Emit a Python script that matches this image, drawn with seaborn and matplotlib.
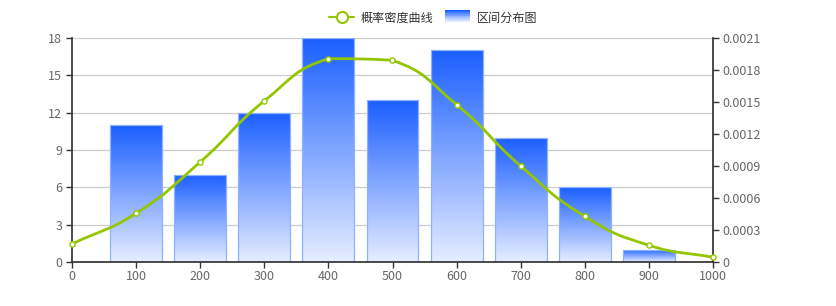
import numpy as np
import pandas as pd
import matplotlib
matplotlib.use("Agg")
import matplotlib.pyplot as plt
import seaborn as sns
from matplotlib.path import Path
from matplotlib.patches import PathPatch, Rectangle
from matplotlib.lines import Line2D
from matplotlib.legend_handler import HandlerBase
from matplotlib.colors import LinearSegmentedColormap

# ---- data ----
bar_x = [100, 200, 300, 400, 500, 600, 700, 800, 900]
bar_counts = [11, 7, 12, 18, 13, 17, 10, 6, 1]
line_x = [0, 100, 200, 300, 400, 500, 600, 700, 800, 900, 1000]
line_density = [0.000169, 0.000457, 0.000938, 0.00151, 0.001906, 0.001891,
                0.001475, 0.0009, 0.000428, 0.000157, 0.000044]
left_ticks = [0, 3, 6, 9, 12, 15, 18]
right_ticks = [0, 0.0003, 0.0006, 0.0009, 0.0012, 0.0015, 0.0018, 0.0021]
right_labels = ["0", "0.0003", "0.0006", "0.0009", "0.0012", "0.0015", "0.0018", "0.0021"]
x_ticks = list(range(0, 1001, 100))
line_name = "概率密度曲线"
bar_name = "区间分布图"

sns.set_theme(style="white")
plt.rcParams['font.family'] = ['Noto Sans CJK SC', 'DejaVu Sans']

W, H = 836, 306
fig = plt.figure(figsize=(W / 100, H / 100), dpi=100)
L, R, T, B = 72, 713, 38, 262
ax = fig.add_axes([L / W, 1 - B / H, (R - L) / W, (B - T) / H])
ax2 = ax.twinx()

TXT = "#666666"
AXC = "#333333"
GREEN = "#94c600"

df = pd.DataFrame({"x": bar_x, "count": bar_counts})
sns.barplot(data=df, x="x", y="count", native_scale=True, width=0.81,
            ax=ax, facecolor="none", edgecolor="#8fb2ff", linewidth=0.9, zorder=2)
ax.set_xlim(0, 1000)
ax.set_ylim(0, 18)

cmap = LinearSegmentedColormap.from_list("g", ["#e6edff", "#1a5fff"])
grad = np.linspace(0, 1, 256).reshape(-1, 1)
for p in ax.patches:
    x0, y0 = p.get_x(), p.get_y()
    w, h = p.get_width(), p.get_height()
    im = ax.imshow(grad, cmap=cmap, origin="lower", aspect="auto",
                   extent=[x0, x0 + w, y0, y0 + h], zorder=1.5, interpolation="bilinear")
    im.set_clip_path(p)
ax.set_xlim(0, 1000)
ax.set_ylim(0, 18)

# grid
ax.set_yticks(left_ticks)
ax.set_xticks(x_ticks)
ax.grid(axis="y", color="#cccccc", linewidth=0.9, zorder=0)
ax.grid(axis="x", visible=False)
ax.set_axisbelow(True)

# smooth line (echarts-like bezier smoothing in pixel space, with clamping)
ax2.set_ylim(0, 0.0021)
sx = (R - L) / 1000.0
sy = (B - T) / 0.0021
pts = np.array([[x * sx, y * sy] for x, y in zip(line_x, line_density)])
n = len(pts)
cps = []
for i in range(n):
    p1 = pts[i]
    p0 = pts[i - 1] if i > 0 else p1
    p2 = pts[i + 1] if i < n - 1 else p1
    v = (p2 - p0) * 0.5
    d0 = np.linalg.norm(p1 - p0)
    d1 = np.linalg.norm(p1 - p2)
    s = d0 + d1
    if s > 0:
        d0 /= s
        d1 /= s
    c0 = p1 - v * d0
    c1 = p1 + v * d1
    c0 = np.clip(c0, np.minimum(p0, p1), np.maximum(p0, p1))
    c1 = np.clip(c1, np.minimum(p2, p1), np.maximum(p2, p1))
    cps.append((c0, c1))
verts = [pts[0]]
codes = [Path.MOVETO]
for i in range(n - 1):
    verts += [cps[i][1], cps[i + 1][0], pts[i + 1]]
    codes += [Path.CURVE4] * 3
verts = np.array(verts)
verts[:, 0] /= sx
verts[:, 1] /= sy
path = Path(verts, codes)
ax2.add_patch(PathPatch(path, facecolor="none", edgecolor=GREEN, linewidth=2.0,
                        zorder=3, clip_on=False))
ldf = pd.DataFrame({"x": line_x, "d": line_density})
sns.scatterplot(data=ldf, x="x", y="d", ax=ax2, s=14, facecolor="white",
                edgecolor=GREEN, linewidth=1.0, zorder=4, clip_on=False)
ax2.set_ylim(0, 0.0021)
ax2.set_yticks(right_ticks)
ax2.set_yticklabels(right_labels)
ax2.set_xlim(0, 1000)
ax2.set_ylabel("")
ax2.set_xlabel("")
ax.set_xlabel("")
ax.set_ylabel("")
ax2.grid(False)

for a in (ax, ax2):
    a.spines["top"].set_visible(False)
    a.tick_params(axis="both", colors=AXC, labelcolor=TXT, labelsize=9,
                  length=4, width=1, direction="out", pad=2)
ax.spines["right"].set_visible(False)
ax.spines["left"].set_color(AXC)
ax.spines["bottom"].set_color(AXC)
ax2.spines["left"].set_visible(False)
ax2.spines["bottom"].set_visible(False)
ax2.spines["right"].set_color(AXC)
ax.tick_params(axis="y", left=True, pad=3)
ax.tick_params(axis="x", bottom=True, pad=2)
ax2.tick_params(axis="y", right=True, pad=3)
ax.set_xticklabels([str(v) for v in x_ticks])


class GradHandler(HandlerBase):
    def create_artists(self, legend, orig_handle, xdescent, ydescent, width, height, fontsize, trans):
        arts = []
        k = 14
        for j in range(k):
            c = cmap(1 - j / (k - 1))
            r = Rectangle((0, height - (j + 1) * height / k), width,
                          height / k * 1.05, facecolor=c, edgecolor="none", transform=trans)
            arts.append(r)
        return arts


line_handle = Line2D([], [], color=GREEN, linewidth=1.5, marker="o", markersize=8,
                     markerfacecolor="white", markeredgecolor=GREEN, markeredgewidth=1.5)
bar_handle = Rectangle((0, 0), 1, 1)
leg = fig.legend([line_handle, bar_handle], [line_name, bar_name],
                 loc="center", bbox_to_anchor=(433 / W, 1 - 18 / H), ncol=2,
                 frameon=False, fontsize=8.7, handlelength=2.1, handleheight=1.1,
                 columnspacing=1.0, handletextpad=0.5,
                 handler_map={Rectangle: GradHandler()})
for t in leg.get_texts():
    t.set_color("#333333")

fig.savefig("out.png", dpi=100)
